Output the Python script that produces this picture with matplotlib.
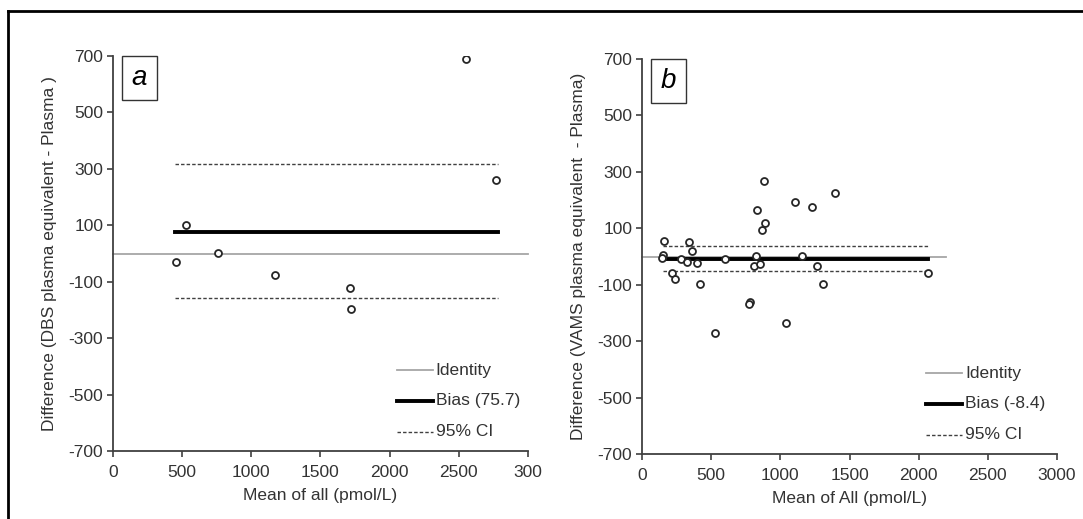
import matplotlib
matplotlib.use("Agg")
import matplotlib.pyplot as plt
from matplotlib.lines import Line2D
from matplotlib.patches import Rectangle

plt.rcParams['font.family'] = ['Liberation Sans', 'DejaVu Sans']
plt.rcParams['axes.unicode_minus'] = False

# panel a: DBS
a_mean = [453, 525, 757, 1170, 1713, 1720, 2554, 2771]
a_diff = [-29, 102, 1, -75, -123, -195, 691, 261]
a_bias = 75.7
a_ci = [316, -158]
a_span = [448, 2781]

# panel b: VAMS
b_mean = [160, 155, 142, 337, 362, 285, 322, 399, 217, 242, 419, 599, 529, 779, 774,
          826, 809, 856, 829, 879, 889, 871, 1038, 1103, 1158, 1231, 1263, 1310, 1393, 2067]
b_diff = [54, 7, -6, 51, 21, -7, -21, -24, -59, -78, -98, -9, -271, -160, -169,
          2, -34, -27, 166, 268, 118, 95, -236, 195, 2, 175, -34, -98, 227, -59]
b_bias = -8.4
b_ci = [39, -51]
b_span = [155, 2071]

yticks = [-700, -500, -300, -100, 100, 300, 500, 700]
xticks = [0, 500, 1000, 1500, 2000, 2500, 3000]
a_xlabels = ['0', '500', '1000', '1500', '2000', '2500', '300']
b_xlabels = ['0', '500', '1000', '1500', '2000', '2500', '3000']

txt = '#333333'
axc = '#404040'
fs = 12.5

fig = plt.figure(figsize=(10.83, 5.19), dpi=100)
ax_a = fig.add_axes([0.1043, 0.131, 0.3832, 0.761])
ax_b = fig.add_axes([0.5928, 0.1252, 0.3832, 0.761])


def draw_panel(ax, xs, ys, bias, ci, span, ident_end, letter, xlabels, xlab, ylab, bias_lab):
    ax.plot([0, ident_end], [0, 0], color='#a6a6a6', lw=1.3, clip_on=False, zorder=1)
    ax.plot(span, [bias, bias], color='black', lw=2.8, zorder=2)
    for c in ci:
        ax.plot(span, [c, c], color='#404040', lw=1.0, dashes=(2.5, 1.5), zorder=2)
    ax.plot(xs, ys, 'o', ms=5, mfc='white', mec='#262626', mew=1.3, ls='none', zorder=3)

    ax.set_xlim(0, 3000)
    ax.set_ylim(-700, 700)
    ax.set_xticks(xticks)
    ax.set_xticklabels(xlabels)
    ax.set_yticks(yticks)
    for s in ['top', 'right']:
        ax.spines[s].set_visible(False)
    for s in ['left', 'bottom']:
        ax.spines[s].set_color(axc)
        ax.spines[s].set_linewidth(1.3)
    ax.tick_params(direction='out', length=4, width=1.2, color=axc,
                   labelcolor=txt, labelsize=fs, pad=3)
    ax.tick_params(axis='x', pad=6)
    ax.set_xlabel(xlab, fontsize=fs, color=txt, labelpad=6)
    ax.set_ylabel(ylab, fontsize=fs, color=txt, labelpad=8)

    ax.add_patch(Rectangle((0.021, 0.888), 0.085, 0.112, transform=ax.transAxes,
                           fc='white', ec='#333333', lw=1.0, clip_on=False, zorder=4))
    ax.text(0.0635, 0.944, letter, transform=ax.transAxes, fontsize=20, style='italic',
            ha='center', va='center', color='black', zorder=5)

    # legend drawn by hand, like the Excel one
    leg = [('Identity', dict(color='#a6a6a6', lw=1.3)),
           (bias_lab, dict(color='black', lw=2.8)),
           ('95% CI', dict(color='#404040', lw=1.0, dashes=(2.5, 1.5)))]
    for i, (lab, kw) in enumerate(leg):
        yy = 0.205 - i * 0.078
        ax.plot([0.685, 0.772], [yy, yy], transform=ax.transAxes, clip_on=False, **kw)
        ax.text(0.778, yy, lab, transform=ax.transAxes, fontsize=fs, color=txt,
                va='center', ha='left')


draw_panel(ax_a, a_mean, a_diff, a_bias, a_ci, a_span, 3000, 'a', a_xlabels,
           'Mean of all (pmol/L)', 'Difference (DBS plasma equivalent - Plasma )', 'Bias (75.7)')
draw_panel(ax_b, b_mean, b_diff, b_bias, b_ci, b_span, 2200, 'b', b_xlabels,
           'Mean of All (pmol/L)', 'Difference (VAMS plasma equivalent  - Plasma)', 'Bias (-8.4)')

# outer frame (left and top edges only are visible in the picture)
fig.add_artist(Line2D([8 / 1083, 8 / 1083], [0, 1 - 11 / 519], color='black', lw=2))
fig.add_artist(Line2D([8 / 1083, 1], [1 - 11 / 519, 1 - 11 / 519], color='black', lw=2))

fig.savefig('out.png', dpi=100)
